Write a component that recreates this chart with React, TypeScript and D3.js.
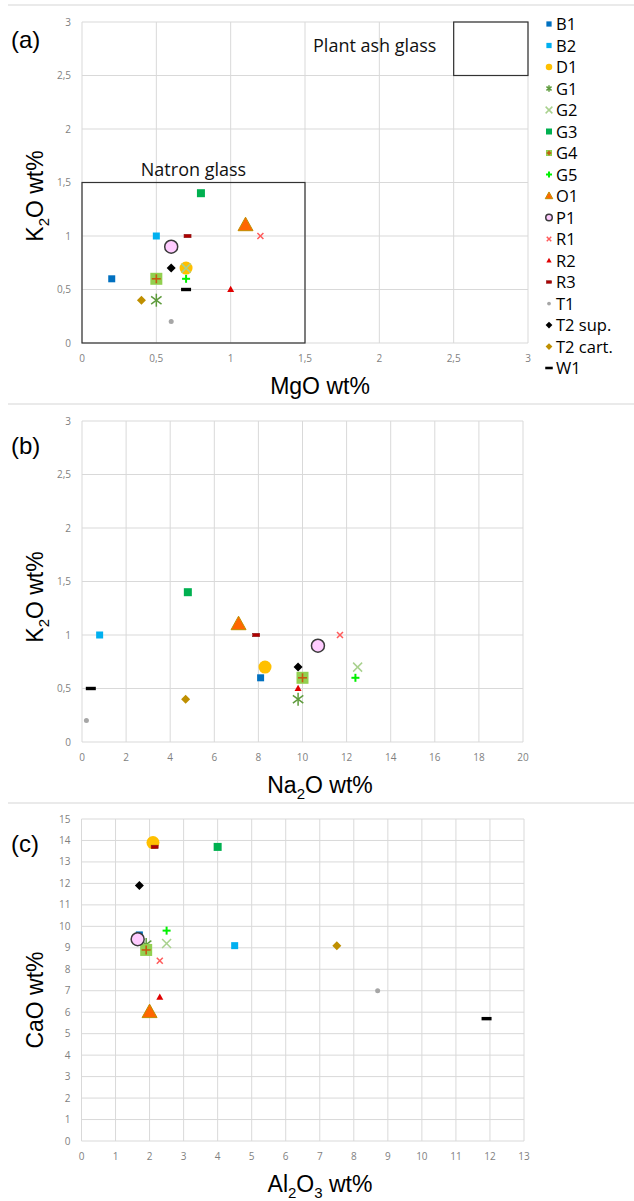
import React from "react";
import * as d3 from "d3";

// ---------- data ----------
const seriesNames = ["B1", "B2", "D1", "G1", "G2", "G3", "G4", "G5", "O1", "P1", "R1", "R2", "R3", "T1", "T2 sup.", "T2 cart.", "W1"];
const mgo = [0.2, 0.5, 0.7, 0.5, 0.7, 0.8, 0.5, 0.7, 1.1, 0.6, 1.2, 1.0, 0.71, 0.6, 0.6, 0.4, 0.7];
const k2o = [0.6, 1.0, 0.7, 0.4, 0.7, 1.4, 0.6, 0.6, 1.1, 0.9, 1.0, 0.5, 1.0, 0.2, 0.7, 0.4, 0.5];
const na2o = [8.1, 0.8, 8.3, 9.8, 12.5, 4.8, 10.0, 12.4, 7.1, 10.7, 11.7, 9.8, 7.9, 0.2, 9.8, 4.7, 0.4];
const al2o3 = [1.7, 4.5, 2.1, 1.9, 2.5, 4.0, 1.9, 2.5, 2.0, 1.65, 2.3, 2.3, 2.15, 8.7, 1.7, 7.5, 11.9];
const cao = [9.6, 9.1, 13.9, 9.15, 9.2, 13.7, 8.9, 9.8, 6.0, 9.4, 8.4, 6.7, 13.7, 7.0, 11.9, 9.1, 5.7];

const ticksA = [0, 0.5, 1, 1.5, 2, 2.5, 3];
const ticksBx = [0, 2, 4, 6, 8, 10, 12, 14, 16, 18, 20];
const ticksBy = [0, 0.5, 1, 1.5, 2, 2.5, 3];
const ticksCx = [0, 1, 2, 3, 4, 5, 6, 7, 8, 9, 10, 11, 12, 13];
const ticksCy = [0, 1, 2, 3, 4, 5, 6, 7, 8, 9, 10, 11, 12, 13, 14, 15];

// natron / plant ash boxes [x0, x1, y0, y1]
const natronBox = [0, 1.5, 0, 1.5];
const plantBox = [2.5, 3, 2.5, 3];

// ---------- styles ----------
type M = { shape: string; size: number; fill: string; stroke?: string; sw?: number; inner?: string };
const markers: M[] = [
  { shape: "square", size: 7, fill: "#0070C0" },
  { shape: "square", size: 7, fill: "#00B0F0" },
  { shape: "circle", size: 13, fill: "#FFC000" },
  { shape: "star", size: 13, fill: "none", stroke: "#5E9B3C", sw: 1.5 },
  { shape: "x", size: 9, fill: "none", stroke: "#A9D18E", sw: 1.5 },
  { shape: "square", size: 8, fill: "#00B050" },
  { shape: "squarePlus", size: 12, fill: "#92D050", inner: "#C55A11", sw: 1.6 },
  { shape: "plus", size: 8, fill: "none", stroke: "#00F000", sw: 2 },
  { shape: "triangle", size: 15, fill: "#FF6600", stroke: "#BF8F00", sw: 1 },
  { shape: "circle", size: 13, fill: "#FFCCFF", stroke: "#3A3A3A", sw: 1.5 },
  { shape: "x", size: 6, fill: "none", stroke: "#FF5B5B", sw: 1.5 },
  { shape: "triangle", size: 7, fill: "#E00000" },
  { shape: "dash", size: 7, fill: "#B00000", stroke: "#8B1A1A", sw: 0.6 },
  { shape: "circle", size: 5, fill: "#A6A6A6" },
  { shape: "diamond", size: 9, fill: "#000000" },
  { shape: "diamond", size: 9, fill: "#BF8F00" },
  { shape: "dash", size: 10, fill: "#000000" },
];

const gridColor = "#D9D9D9";
const tickColor = "#7F7F7F";
const tickFont = "'Open Sans', 'DejaVu Sans', sans-serif";
const titleFont = "'Liberation Sans', Arial, sans-serif";
const annFont = "'Open Sans', 'DejaVu Sans', sans-serif";

function Marker({ m, x, y, k = 1 }: { m: M; x: number; y: number; k?: number }) {
  const s = m.size * k;
  const h = s / 2;
  switch (m.shape) {
    case "square":
      return <rect x={x - h} y={y - h} width={s} height={s} fill={m.fill} />;
    case "circle":
      return <circle cx={x} cy={y} r={h} fill={m.fill} stroke={m.stroke || "none"} strokeWidth={m.sw || 0} />;
    case "diamond":
      return <path d={`M${x},${y - h}L${x + h},${y}L${x},${y + h}L${x - h},${y}Z`} fill={m.fill} />;
    case "triangle": {
      const th = s * 0.9;
      return (
        <path
          d={`M${x},${y - th * 0.6}L${x + h},${y + th * 0.4}L${x - h},${y + th * 0.4}Z`}
          fill={m.fill}
          stroke={m.stroke || "none"}
          strokeWidth={m.sw || 0}
        />
      );
    }
    case "x":
      return (
        <g stroke={m.stroke} strokeWidth={m.sw}>
          <line x1={x - h} y1={y - h} x2={x + h} y2={y + h} />
          <line x1={x - h} y1={y + h} x2={x + h} y2={y - h} />
        </g>
      );
    case "plus":
      return (
        <g stroke={m.stroke} strokeWidth={m.sw}>
          <line x1={x - h} y1={y} x2={x + h} y2={y} />
          <line x1={x} y1={y - h} x2={x} y2={y + h} />
        </g>
      );
    case "star":
      return (
        <g stroke={m.stroke} strokeWidth={m.sw}>
          <line x1={x - h * 0.8} y1={y - h * 0.6} x2={x + h * 0.8} y2={y + h * 0.6} />
          <line x1={x - h * 0.8} y1={y + h * 0.6} x2={x + h * 0.8} y2={y - h * 0.6} />
          <line x1={x} y1={y - h} x2={x} y2={y + h} />
        </g>
      );
    case "squarePlus":
      return (
        <g>
          <rect x={x - h} y={y - h} width={s} height={s} fill={m.fill} />
          <g stroke={m.inner} strokeWidth={m.sw}>
            <line x1={x - h * 0.75} y1={y} x2={x + h * 0.75} y2={y} />
            <line x1={x} y1={y - h * 0.75} x2={x} y2={y + h * 0.75} />
          </g>
        </g>
      );
    case "dash":
      return (
        <rect
          x={x - h}
          y={y - 1.7 * k}
          width={s}
          height={3.4 * k}
          fill={m.fill}
          stroke={m.stroke || "none"}
          strokeWidth={m.sw || 0}
        />
      );
    default:
      return null;
  }
}

const fmt = (d: number) => String(d).replace(".", ",");

type PanelProps = {
  xs: number[];
  ys: number[];
  xDomain: [number, number];
  yDomain: [number, number];
  xTicks: number[];
  yTicks: number[];
  left: number;
  right: number;
  top: number;
  bottom: number;
  label: string;
  labelY: number;
  xTitle: React.ReactNode;
  yTitle: React.ReactNode;
  yTitleY: number;
  extra?: (x: d3.ScaleLinear<number, number>, y: d3.ScaleLinear<number, number>) => React.ReactNode;
};

function Panel(p: PanelProps) {
  const x = d3.scaleLinear().domain(p.xDomain).range([p.left, p.right]);
  const y = d3.scaleLinear().domain(p.yDomain).range([p.bottom, p.top]);
  return (
    <g>
      {p.xTicks.map((t) => (
        <line key={"vx" + t} x1={x(t)} x2={x(t)} y1={p.top} y2={p.bottom} stroke={gridColor} strokeWidth={1} />
      ))}
      {p.yTicks.map((t) => (
        <line key={"hy" + t} x1={p.left} x2={p.right} y1={y(t)} y2={y(t)} stroke={gridColor} strokeWidth={1} />
      ))}
      {p.xTicks.map((t) => (
        <text key={"tx" + t} x={x(t)} y={p.bottom + 19} textAnchor="middle" fontSize={10} fill={tickColor} fontFamily={tickFont}>
          {fmt(t)}
        </text>
      ))}
      {p.yTicks.map((t) => (
        <text key={"ty" + t} x={p.left - 11} y={y(t) + 3.5} textAnchor="end" fontSize={10} fill={tickColor} fontFamily={tickFont}>
          {fmt(t)}
        </text>
      ))}
      {p.extra && p.extra(x, y)}
      {p.xs.map((v, i) => (
        <Marker key={"m" + i} m={markers[i]} x={x(v)} y={y(p.ys[i])} />
      ))}
      <text x={11} y={p.labelY} fontSize={24} fontFamily={titleFont} fill="#000">
        {p.label}
      </text>
      <text x={320} y={p.bottom + 51} textAnchor="middle" fontSize={23} fontFamily={titleFont} fill="#000">
        {p.xTitle}
      </text>
      <text
        transform={`translate(43,${p.yTitleY}) rotate(-90)`}
        textAnchor="middle"
        fontSize={23}
        fontFamily={titleFont}
        fill="#000"
      >
        {p.yTitle}
      </text>
    </g>
  );
}

const sub = (s: string) => (
  <tspan dy={6} fontSize={15}>
    {s}
  </tspan>
);
const back = (s: string) => <tspan dy={-6}>{s}</tspan>;

export default function App() {
  return (
    <svg width={634} height={1201} style={{ position: "absolute", left: 0, top: 0, background: "#fff" }}>
      <rect x={0} y={0} width={634} height={1201} fill="#fff" />
      {[5, 404, 803].map((yy) => (
        <line key={yy} x1={8} x2={634} y1={yy} y2={yy} stroke="#E3E3E3" strokeWidth={1.5} />
      ))}

      <Panel
        xs={mgo}
        ys={k2o}
        xDomain={[0, 3]}
        yDomain={[0, 3]}
        xTicks={ticksA}
        yTicks={ticksA}
        left={82}
        right={528}
        top={22}
        bottom={343}
        label="(a)"
        labelY={48}
        xTitle="MgO wt%"
        yTitle={<>K{sub("2")}{back("O wt%")}</>}
        yTitleY={196}
        extra={(x, y) => (
          <g>
            <rect
              x={x(natronBox[0])}
              y={y(natronBox[3])}
              width={x(natronBox[1]) - x(natronBox[0])}
              height={y(natronBox[2]) - y(natronBox[3])}
              fill="none"
              stroke="#333"
              strokeWidth={1.2}
            />
            <rect
              x={x(plantBox[0])}
              y={y(plantBox[3])}
              width={x(plantBox[1]) - x(plantBox[0])}
              height={y(plantBox[2]) - y(plantBox[3])}
              fill="none"
              stroke="#333"
              strokeWidth={1.2}
            />
            <text x={(x(natronBox[0]) + x(natronBox[1])) / 2} y={y(natronBox[3]) - 7} textAnchor="middle" fontSize={18} fontFamily={annFont} fill="#111">
              Natron glass
            </text>
            <text x={x(plantBox[0]) - 79} y={y(plantBox[3]) + 30} textAnchor="middle" fontSize={18} fontFamily={annFont} fill="#111">
              Plant ash glass
            </text>
          </g>
        )}
      />

      <Panel
        xs={na2o}
        ys={k2o}
        xDomain={[0, 20]}
        yDomain={[0, 3]}
        xTicks={ticksBx}
        yTicks={ticksBy}
        left={82}
        right={523}
        top={421}
        bottom={742}
        label="(b)"
        labelY={454}
        xTitle={<>Na{sub("2")}{back("O wt%")}</>}
        yTitle={<>K{sub("2")}{back("O wt%")}</>}
        yTitleY={597}
      />

      <Panel
        xs={al2o3}
        ys={cao}
        xDomain={[0, 13]}
        yDomain={[0, 15]}
        xTicks={ticksCx}
        yTicks={ticksCy}
        left={81.5}
        right={524}
        top={819}
        bottom={1141}
        label="(c)"
        labelY={852}
        xTitle={<>Al{sub("2")}{back("O")}{sub("3")}{back(" wt%")}</>}
        yTitle="CaO wt%"
        yTitleY={1000}
      />

      {seriesNames.map((n, i) => {
        const yy = 24 + i * 21.5;
        return (
          <g key={n}>
            <Marker m={markers[i]} x={549} y={yy} k={markers[i].size > 10 ? 0.5 : 0.75} />
            <text x={556} y={yy + 6} fontSize={16.5} fontFamily={annFont} fill="#000">
              {n}
            </text>
          </g>
        );
      })}
    </svg>
  );
}
